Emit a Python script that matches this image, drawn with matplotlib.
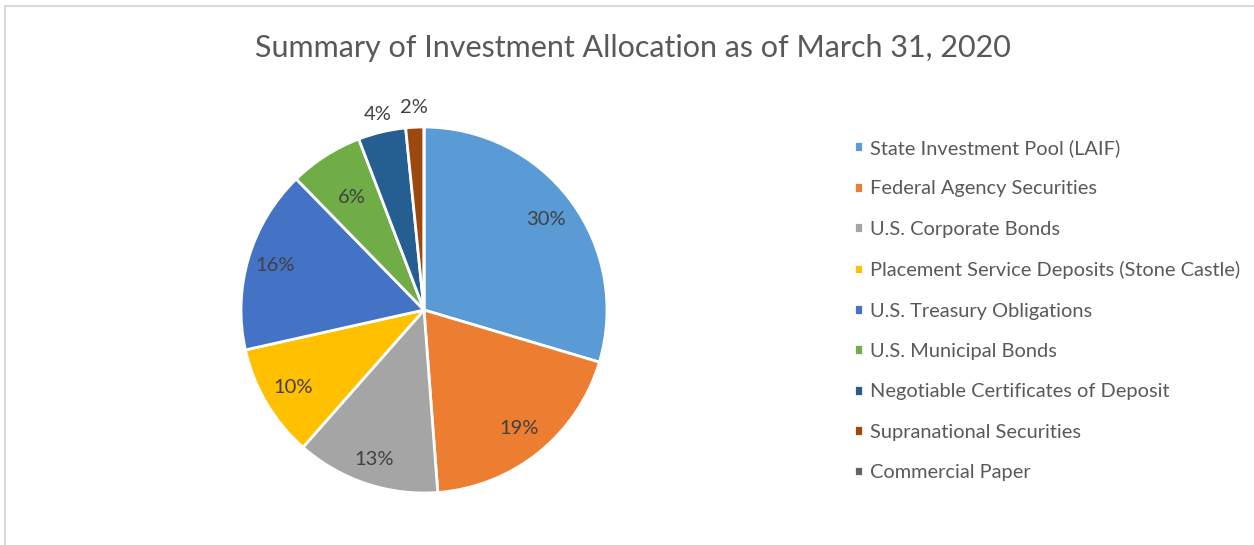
import numpy as np
import matplotlib.pyplot as plt
from matplotlib.patches import Rectangle

plt.rcParams['font.family'] = ['Lato', 'DejaVu Sans']

categories = ['State Investment Pool (LAIF)', 'Federal Agency Securities',
              'U.S. Corporate Bonds', 'Placement Service Deposits (Stone Castle)',
              'U.S. Treasury Obligations', 'U.S. Municipal Bonds',
              'Negotiable Certificates of Deposit', 'Supranational Securities',
              'Commercial Paper']
shares = [29.6, 19.2, 12.7, 10.0, 16.2, 6.5, 4.2, 1.6, 0.0]
colors = ['#5B9BD5', '#ED7D31', '#A5A5A5', '#FFC000', '#4472C4',
          '#70AD47', '#255E91', '#9E480E', '#636363']
label_dist = [0.83, 0.83, 0.86, 0.83, 0.85, 0.73, 1.1, 1.11, 1.1]

W, H = 1254, 545
fig = plt.figure(figsize=(W / 100, H / 100), dpi=100)

# pie axes: center (424, 310) px, radius 183 px
r = 183
lim = 1.3
cx, cy = 424, 310
ax = fig.add_axes([(cx - r * lim) / W, 1 - (cy + r * lim) / H,
                   2 * r * lim / W, 2 * r * lim / H])
wedges, _ = ax.pie(shares, colors=colors, startangle=90, counterclock=False,
                   wedgeprops=dict(edgecolor='white', linewidth=2))
ax.set_xlim(-lim, lim)
ax.set_ylim(-lim, lim)
ax.set_aspect('equal')

for w, v, d in zip(wedges, shares, label_dist):
    if v <= 0:
        continue
    ang = np.deg2rad((w.theta1 + w.theta2) / 2)
    ax.text(d * np.cos(ang), d * np.sin(ang), '%.0f%%' % v,
            ha='center', va='center', fontsize=14.5, color='#404040')

fig.text(633 / W, 1 - 48 / H, 'Summary of Investment Allocation as of March 31, 2020',
         ha='center', va='center', fontsize=22, color='#595959')

fig.legend(wedges, categories, loc='upper left',
           bbox_to_anchor=(854 / W, 1 - 139 / H), frameon=False,
           fontsize=14.4, labelcolor='#595959', handlelength=0.45,
           handleheight=0.45, handletextpad=0.35, labelspacing=1.17,
           borderaxespad=0, borderpad=0)

# chart frame
fig.patches.append(Rectangle((5 / W, -0.1), 1.2, 1 - 6 / H + 0.1,
                             transform=fig.transFigure, fill=False,
                             edgecolor='#D9D9D9', linewidth=1.5))

fig.savefig('out.png', dpi=100)
